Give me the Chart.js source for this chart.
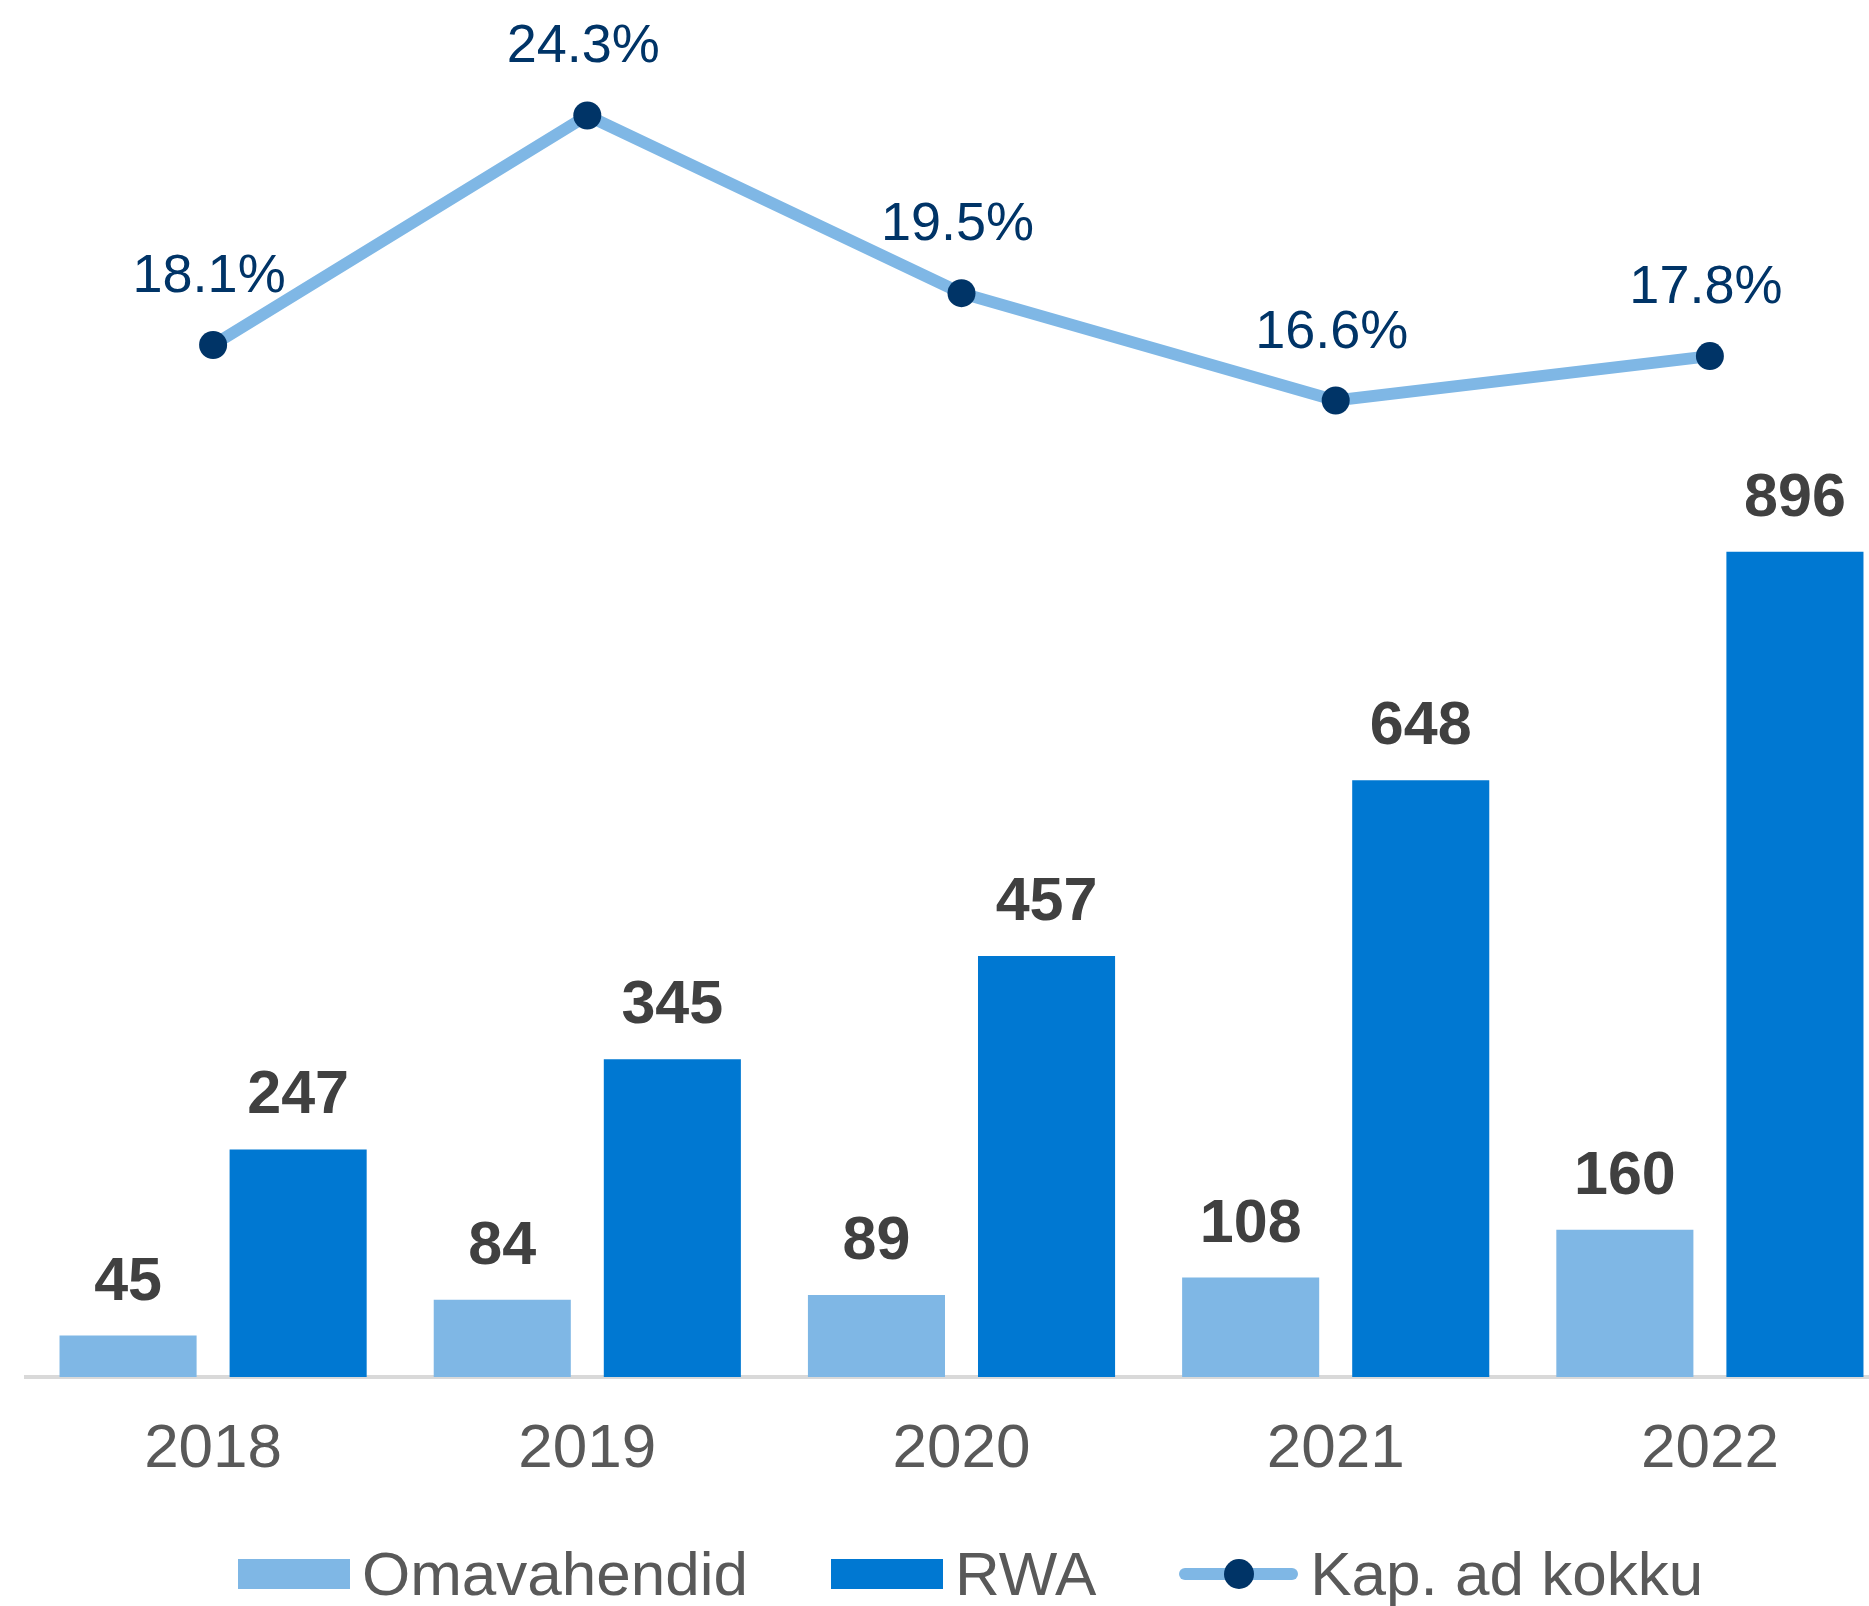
<!DOCTYPE html>
<html>
<head>
<meta charset="utf-8">
<script src="https://cdn.jsdelivr.net/npm/chart.js@4.4.1/dist/chart.umd.min.js"></script>
<style>
    html, body { margin: 0; padding: 0; overflow: hidden; background: #ffffff; }
    #wrap { position: relative; width: 1940px; height: 1606px; }
    #legend {
        position: absolute; left: 238px; top: 1537px; height: 74px;
        display: flex; align-items: center;
        font: 62px/1.2 "Liberation Sans", Arial, sans-serif; color: #595959;
        white-space: nowrap;
    }
    .item { display: flex; align-items: center; margin-right: 83px; }
    .swatch { width: 112px; height: 30px; margin-right: 12px; }
    .line-swatch { position: relative; width: 119px; height: 30px; margin-right: 12px; }
    .line-swatch .bar { position: absolute; left: 0; top: 9px; width: 119px; height: 12px; border-radius: 6px; }
    .line-swatch .dot { position: absolute; left: 45px; top: 0; width: 30px; height: 30px; border-radius: 50%; }
</style>
</head>
<body>
<div id="wrap">
    <canvas id="chart"></canvas>
    <div id="legend"></div>
</div>
<script>
const YEARS = ['2018', '2019', '2020', '2021', '2022'];
const OWN_FUNDS = [45, 84, 89, 108, 160];
const RWA = [247, 345, 457, 648, 896];
const CAPITAL_RATIO = [18.1, 24.3, 19.5, 16.6, 17.8];
const SERIES_LABELS = ['Omavahendid', 'RWA', 'Kap. ad kokku'];

const LIGHT_BLUE = '#7FB7E5';
const DARK_BLUE = '#0078D2';
const NAVY = '#003467';
const FONT = '"Liberation Sans", Arial, sans-serif';

Chart.defaults.font.family = FONT;

const valueLabels = {
    id: 'valueLabels',
    afterDatasetsDraw(chart) {
        const ctx = chart.ctx;
        ctx.save();
        ctx.textAlign = 'center';
        ctx.textBaseline = 'alphabetic';
        chart.data.datasets.forEach((ds, i) => {
            const meta = chart.getDatasetMeta(i);
            meta.data.forEach((el, j) => {
                const value = ds.data[j];
                if (ds.type === 'line') {
                    ctx.font = `54px ${FONT}`;
                    ctx.fillStyle = NAVY;
                    ctx.fillText(`${value.toFixed(1)}%`, el.x - 4, el.y - 53);
                } else {
                    ctx.font = `bold 61px ${FONT}`;
                    ctx.fillStyle = '#404040';
                    ctx.fillText(String(value), el.x, el.y - 36);
                }
            });
        });
        ctx.restore();
    }
};

// html legend built from the chart's own datasets
const htmlLegend = {
    id: 'htmlLegend',
    afterUpdate(chart) {
        const box = document.getElementById('legend');
        box.innerHTML = '';
        chart.data.datasets.forEach(ds => {
            const item = document.createElement('div');
            item.className = 'item';
            if (ds.type === 'line') {
                const sw = document.createElement('div');
                sw.className = 'line-swatch';
                const bar = document.createElement('div');
                bar.className = 'bar';
                bar.style.background = ds.borderColor;
                const dot = document.createElement('div');
                dot.className = 'dot';
                dot.style.background = ds.pointBackgroundColor;
                sw.appendChild(bar);
                sw.appendChild(dot);
                item.appendChild(sw);
            } else {
                const sw = document.createElement('div');
                sw.className = 'swatch';
                sw.style.background = ds.backgroundColor;
                item.appendChild(sw);
            }
            const text = document.createElement('span');
            text.textContent = ds.label;
            item.appendChild(text);
            box.appendChild(item);
        });
    }
};

new Chart(document.getElementById('chart'), {
    data: {
        labels: YEARS,
        datasets: [
            {
                type: 'bar',
                label: SERIES_LABELS[0],
                data: OWN_FUNDS,
                backgroundColor: LIGHT_BLUE,
                yAxisID: 'y',
                barPercentage: 0.806,
                categoryPercentage: 0.909
            },
            {
                type: 'bar',
                label: SERIES_LABELS[1],
                data: RWA,
                backgroundColor: DARK_BLUE,
                yAxisID: 'y',
                barPercentage: 0.806,
                categoryPercentage: 0.909
            },
            {
                type: 'line',
                label: SERIES_LABELS[2],
                data: CAPITAL_RATIO,
                borderColor: LIGHT_BLUE,
                borderWidth: 12,
                backgroundColor: NAVY,
                pointBackgroundColor: NAVY,
                pointBorderColor: NAVY,
                pointBorderWidth: 0,
                pointRadius: 14,
                tension: 0,
                clip: false,
                yAxisID: 'y1'
            }
        ]
    },
    options: {
        responsive: true,
        maintainAspectRatio: false,
        animation: false,
        layout: { autoPadding: false, padding: { left: 26, right: 43, top: 0, bottom: 82.6 } },
        scales: {
            x: {
                grid: { display: false, drawTicks: false },
                border: { color: '#D9D9D9', width: 4 },
                ticks: { color: '#595959', font: { size: 62 }, padding: 36 }
            },
            y: { display: false, min: 0, max: 1495 },
            y1: { display: false, min: -9.78, max: 27.42 }
        },
        plugins: {
            tooltip: { enabled: false },
            legend: { display: false }
        }
    },
    plugins: [valueLabels, htmlLegend]
});
</script>
</body>
</html>
